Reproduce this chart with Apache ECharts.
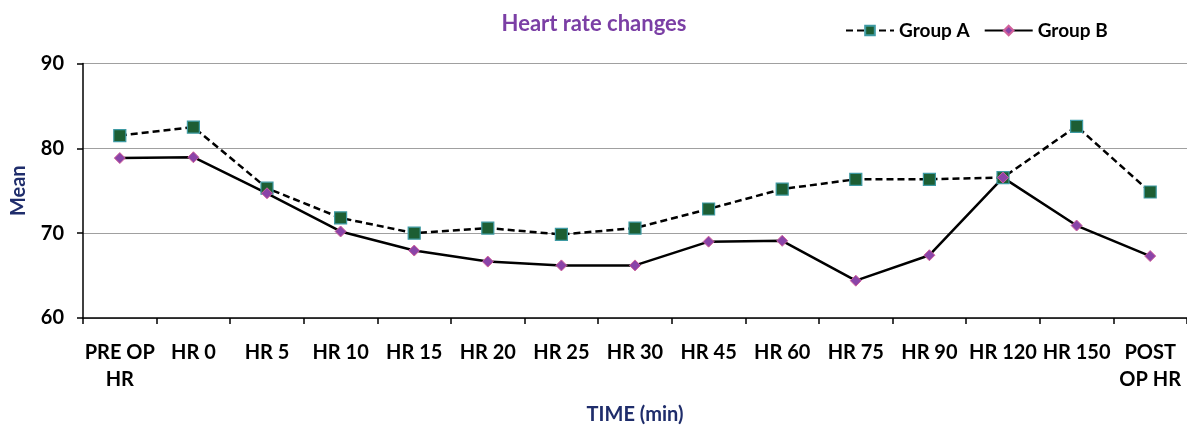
<!DOCTYPE html>
<html><head><meta charset="utf-8">
<script src="https://cdn.jsdelivr.net/npm/echarts@6/dist/echarts.min.js"></script>
<style>html,body{margin:0;padding:0;background:#fff}#c{width:1187px;height:430px}</style>
</head><body><div id="c"></div>
<script>
var categories = ['PRE OP\nHR','HR 0','HR 5','HR 10','HR 15','HR 20','HR 25','HR 30','HR 45','HR 60','HR 75','HR 90','HR 120','HR 150','POST\nOP HR'];
var groupA = [81.5, 82.5, 75.3, 71.8, 70.0, 70.6, 69.85, 70.6, 72.85, 75.2, 76.35, 76.35, 76.55, 82.6, 74.85];
var groupB = [78.85, 78.95, 74.7, 70.2, 67.95, 66.65, 66.2, 66.2, 69.0, 69.1, 64.4, 67.4, 76.55, 70.9, 67.3];
var yTicks = [60, 70, 80, 90];

var F = 'Lato, "Open Sans", sans-serif';
var chart = echarts.init(document.getElementById('c'));
chart.setOption({
  animation: false,
  title: {
    text: 'Heart rate changes', left: 589, top: 8, textAlign: 'center',
    textStyle: {color: '#7B3FA5', fontFamily: F, fontWeight: 'bold', fontSize: 22}
  },
  legend: {
    left: 845, top: 21, padding: 0, itemWidth: 48, itemHeight: 12, itemGap: 14,
    textStyle: {color: '#000', fontFamily: F, fontWeight: 'bold', fontSize: 19},
    data: ['Group A', 'Group B']
  },
  grid: {left: 83, right: -6, top: 63.5, bottom: 109.5, containLabel: false},
  xAxis: {
    type: 'category', data: categories, boundaryGap: true,
    name: 'TIME (min)', nameLocation: 'middle', nameGap: 87,
    nameTextStyle: {color: '#1F2D6B', fontFamily: F, fontWeight: 'bold', fontSize: 20},
    axisLine: {lineStyle: {color: '#000', width: 1.5}},
    axisTick: {show: true, length: 6, inside: false, alignWithLabel: false, lineStyle: {color: '#000', width: 1.5}},
    axisLabel: {color: '#000', fontFamily: F, fontWeight: 'bold', fontSize: 20, lineHeight: 27, margin: 21, interval: 0}
  },
  yAxis: {
    type: 'value', min: yTicks[0], max: yTicks[yTicks.length-1], interval: 10,
    name: 'Mean', nameLocation: 'middle', nameGap: 54, nameRotate: 90,
    nameTextStyle: {color: '#1F2D6B', fontFamily: F, fontWeight: 'bold', fontSize: 20},
    axisLine: {show: true, lineStyle: {color: '#000', width: 1.5}},
    axisTick: {show: true, length: 6, lineStyle: {color: '#000', width: 1.5}},
    axisLabel: {color: '#000', fontFamily: F, fontWeight: 'bold', fontSize: 20, margin: 19},
    splitLine: {show: true, lineStyle: {color: '#A0A0A0', width: 1}}
  },
  series: [
    {
      name: 'Group A', type: 'line', data: groupA,
      symbol: 'rect', symbolSize: 12,
      lineStyle: {color: '#000', width: 2.5, type: [7, 4]},
      itemStyle: {color: '#1D5E33', borderColor: '#3E9AA3', borderWidth: 1.2}
    },
    {
      name: 'Group B', type: 'line', data: groupB,
      symbol: 'diamond', symbolSize: 11,
      lineStyle: {color: '#000', width: 2.5},
      itemStyle: {color: '#8A44A8', borderColor: '#D0609A', borderWidth: 1}
    }
  ]
});
</script></body></html>
